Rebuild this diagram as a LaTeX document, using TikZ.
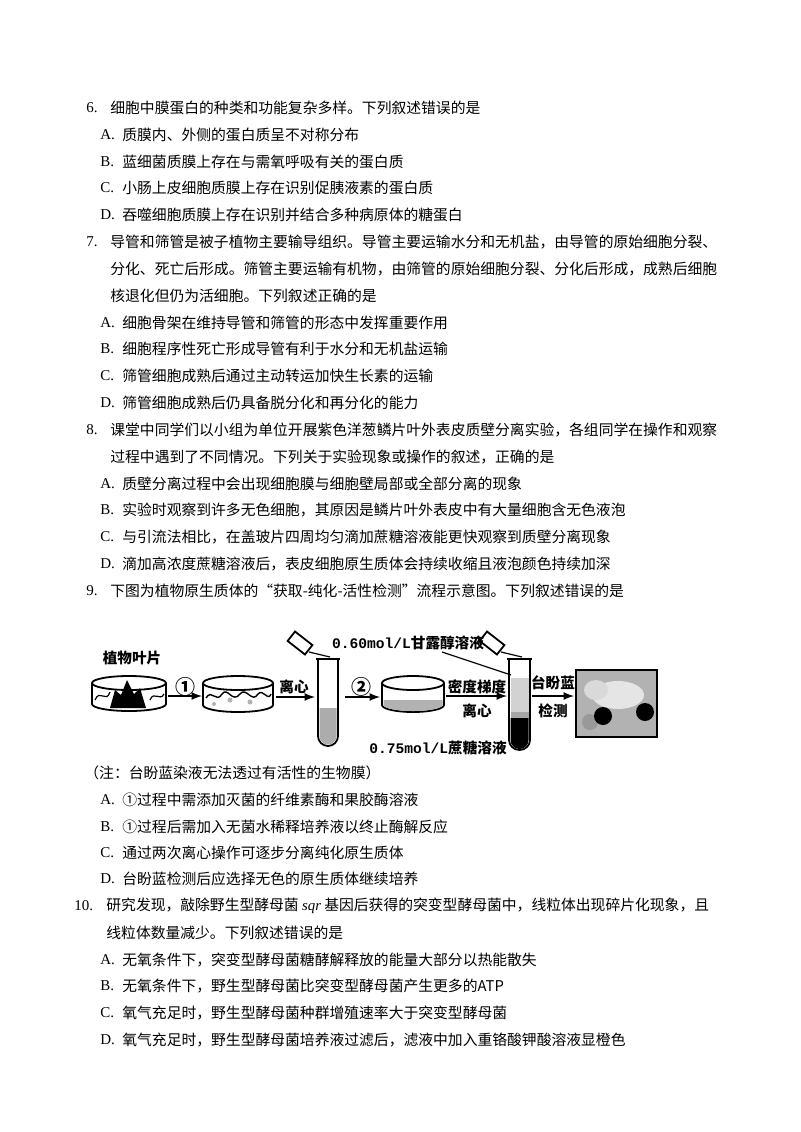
\documentclass[tikz,border=0pt]{standalone}
\usepackage{fontspec}
\setmainfont{Liberation Serif}
\newfontfamily\cjk{Noto Sans CJK SC}
\newfontfamily\mon{Liberation Mono}
\begin{document}
\begin{tikzpicture}[x=0.5pt,y=-0.5pt,
  txt/.style={anchor=west,inner sep=0pt,font=\fontsize{7.4}{8}\cjk},
  num/.style={anchor=west,inner sep=0pt,font=\fontsize{7.5}{8}\selectfont},
  lab/.style={inner sep=0pt,font=\fontsize{7.3}{8}\cjk\bfseries},
  arr/.style={-latex,line width=0.8pt},
  dish/.style={line width=0.9pt,fill=white}]
\useasboundingbox (0,0) rectangle (800,1132);
\fill[white] (0,0) rectangle (800,1132);
\newcommand\myq[3]{\node[num] at (86,#1) {#2.}; \node[txt] at (110,#1) {#3};}
\newcommand\myl[2]{\node[txt] at (110,#1) {#2};}
\newcommand\myo[3]{\node[num] at (100,#1) {#2.}; \node[txt] at (122,#1) {#3};}
\myq{108}{6}{细胞中膜蛋白的种类和功能复杂多样。下列叙述错误的是}
\myo{135}{A}{质膜内、外侧的蛋白质呈不对称分布}
\myo{162}{B}{蓝细菌质膜上存在与需氧呼吸有关的蛋白质}
\myo{188}{C}{小肠上皮细胞质膜上存在识别促胰液素的蛋白质}
\myo{215}{D}{吞噬细胞质膜上存在识别并结合多种病原体的糖蛋白}
\myq{242}{7}{导管和筛管是被子植物主要输导组织。导管主要运输水分和无机盐，由导管的原始细胞分裂、}
\myl{269}{分化、死亡后形成。筛管主要运输有机物，由筛管的原始细胞分裂、分化后形成，成熟后细胞}
\myl{296}{核退化但仍为活细胞。下列叙述正确的是}
\myo{323}{A}{细胞骨架在维持导管和筛管的形态中发挥重要作用}
\myo{349}{B}{细胞程序性死亡形成导管有利于水分和无机盐运输}
\myo{376}{C}{筛管细胞成熟后通过主动转运加快生长素的运输}
\myo{403}{D}{筛管细胞成熟后仍具备脱分化和再分化的能力}
\myq{430}{8}{课堂中同学们以小组为单位开展紫色洋葱鳞片叶外表皮质壁分离实验，各组同学在操作和观察}
\myl{457}{过程中遇到了不同情况。下列关于实验现象或操作的叙述，正确的是}
\myo{484}{A}{质壁分离过程中会出现细胞膜与细胞壁局部或全部分离的现象}
\myo{510}{B}{实验时观察到许多无色细胞，其原因是鳞片叶外表皮中有大量细胞含无色液泡}
\myo{537}{C}{与引流法相比，在盖玻片四周均匀滴加蔗糖溶液能更快观察到质壁分离现象}
\myo{564}{D}{滴加高浓度蔗糖溶液后，表皮细胞原生质体会持续收缩且液泡颜色持续加深}
\myq{591}{9}{下图为植物原生质体的“获取-纯化-活性检测”流程示意图。下列叙述错误的是}
% ---------- diagram ----------
\node[lab] (l1) at (132,658) {植物叶片};
% dish 1
\draw[dish] (92,683) -- (92,704) arc[start angle=180,end angle=0,x radius=37,y radius=7] -- (166,683);
\fill[black] (110,708) -- (115,690) -- (121,695) -- (127,680) -- (134,694) -- (140,688) -- (146,708) -- cycle;
\draw[line width=0.6pt] (95,700) .. controls (100,688) and (106,704) .. (110,692) (150,700) .. controls (154,690) and (160,702) .. (164,694);
\draw[line width=0.9pt] (129,683) ellipse[x radius=37,y radius=7];
\node[lab] (c1) at (185,687) {\fontsize{10}{10}\selectfont ①};
\draw[arr] (168,696) -- (202,696);
% dish 2
\draw[dish] (203,683) -- (203,705) arc[start angle=180,end angle=0,x radius=35,y radius=7] -- (273,683);
\draw[line width=0.7pt] (206,698) .. controls (212,688) and (216,704) .. (222,694) .. controls (228,686) and (232,704) .. (240,694) .. controls (246,686) and (252,704) .. (258,694) .. controls (263,688) and (268,702) .. (271,694);
\fill[gray!60] (230,700) circle[radius=2.5] (250,702) circle[radius=2.5] (214,704) circle[radius=2];
\draw[line width=0.9pt] (238,683) ellipse[x radius=35,y radius=7];
\node[lab] (lx1) at (294,687) {离心};
\draw[arr] (276,697) -- (315,697);
% tube 1
\draw[line width=0.9pt,fill=white] (318,659) -- (318,736) arc[start angle=180,end angle=0,x radius=10,y radius=10] -- (338,659);
\draw[line width=0.7pt] (316,659) -- (340,659);
\fill[gray!65] (319.5,708) -- (319.5,736) arc[start angle=180,end angle=0,x radius=8.5,y radius=8.5] -- (336.5,708) -- cycle;
% dropper 1
\draw[line width=0.9pt,fill=white,rotate around={-38:(300,643)}] (289,637) rectangle (311,649);
\draw[line width=0.6pt] (309,652) -- (330,657);
\node[lab] (c2) at (361,687) {\fontsize{10}{10}\selectfont ②};
\draw[arr] (345,697) -- (380,697);
% dish 3
\draw[dish] (382,683) -- (382,705) arc[start angle=180,end angle=0,x radius=31,y radius=7] -- (444,683);
\fill[gray!60] (383.5,700) -- (383.5,705) arc[start angle=180,end angle=0,x radius=29.5,y radius=6] -- (442.5,700) -- cycle;
\draw[line width=0.9pt] (413,683) ellipse[x radius=31,y radius=7];
\node[lab] (lmd) at (477,687) {密度梯度};
\node[lab] (llx) at (477,711) {离心};
\draw[arr] (446,696) -- (507,696);
% tube 2
\draw[line width=0.9pt,fill=white] (509,659) -- (509,740) arc[start angle=180,end angle=0,x radius=10.5,y radius=10] -- (530,659);
\draw[line width=0.7pt] (507,659) -- (532,659);
\fill[gray!35] (510.5,678) rectangle (528.5,712);
\fill[gray!70] (510.5,712) rectangle (528.5,718);
\fill[black] (510.5,718) -- (510.5,740) arc[start angle=180,end angle=0,x radius=9,y radius=9] -- (528.5,718) -- cycle;
% dropper 2
\draw[line width=0.9pt,fill=white,rotate around={-38:(492,643)}] (481,637) rectangle (503,649);
\draw[line width=0.6pt] (501,652) -- (522,657);
\node[lab] (lgl) at (408,643) {{\mon\bfseries 0.60mol/L}甘露醇溶液};
\draw[line width=0.6pt] (442,652) -- (511,675);
\node[lab] (lzt) at (438,748) {{\mon\bfseries 0.75mol/L}蔗糖溶液};
\node[lab] (ltp) at (553,683) {台盼蓝};
\node[lab] (ljc) at (553,711) {检测};
\draw[arr] (532,696) -- (574,696);
% result picture
\draw[line width=1.1pt,fill=gray!60] (576,670) rectangle (657,737);
\fill[gray!20] (618,695) ellipse[x radius=26,y radius=14];
\fill[gray!30] (596,690) ellipse[x radius=12,y radius=10];
\fill[gray!80] (590,722) circle[radius=8];
\fill[black] (603,716) circle[radius=9];
\fill[black] (645,712) circle[radius=9];
% ---------- after ----------
\node[txt] at (84,773) {（注：台盼蓝染液无法透过有活性的生物膜）};
\myo{800}{A}{①过程中需添加灭菌的纤维素酶和果胶酶溶液}
\myo{827}{B}{①过程后需加入无菌水稀释培养液以终止酶解反应}
\myo{853}{C}{通过两次离心操作可逐步分离纯化原生质体}
\myo{879}{D}{台盼蓝检测后应选择无色的原生质体继续培养}
\node[num] at (74,906) {10.};
\node[txt] at (106,906) {研究发现，敲除野生型酵母菌 {\rmfamily\itshape sqr} 基因后获得的突变型酵母菌中，线粒体出现碎片化现象，且};
\node[txt] at (106,933) {线粒体数量减少。下列叙述错误的是};
\myo{960}{A}{无氧条件下，突变型酵母菌糖酵解释放的能量大部分以热能散失}
\myo{986}{B}{无氧条件下，野生型酵母菌比突变型酵母菌产生更多的ATP}
\myo{1013}{C}{氧气充足时，野生型酵母菌种群增殖速率大于突变型酵母菌}
\myo{1040}{D}{氧气充足时，野生型酵母菌培养液过滤后，滤液中加入重铬酸钾酸溶液显橙色}
\end{tikzpicture}
\end{document}
